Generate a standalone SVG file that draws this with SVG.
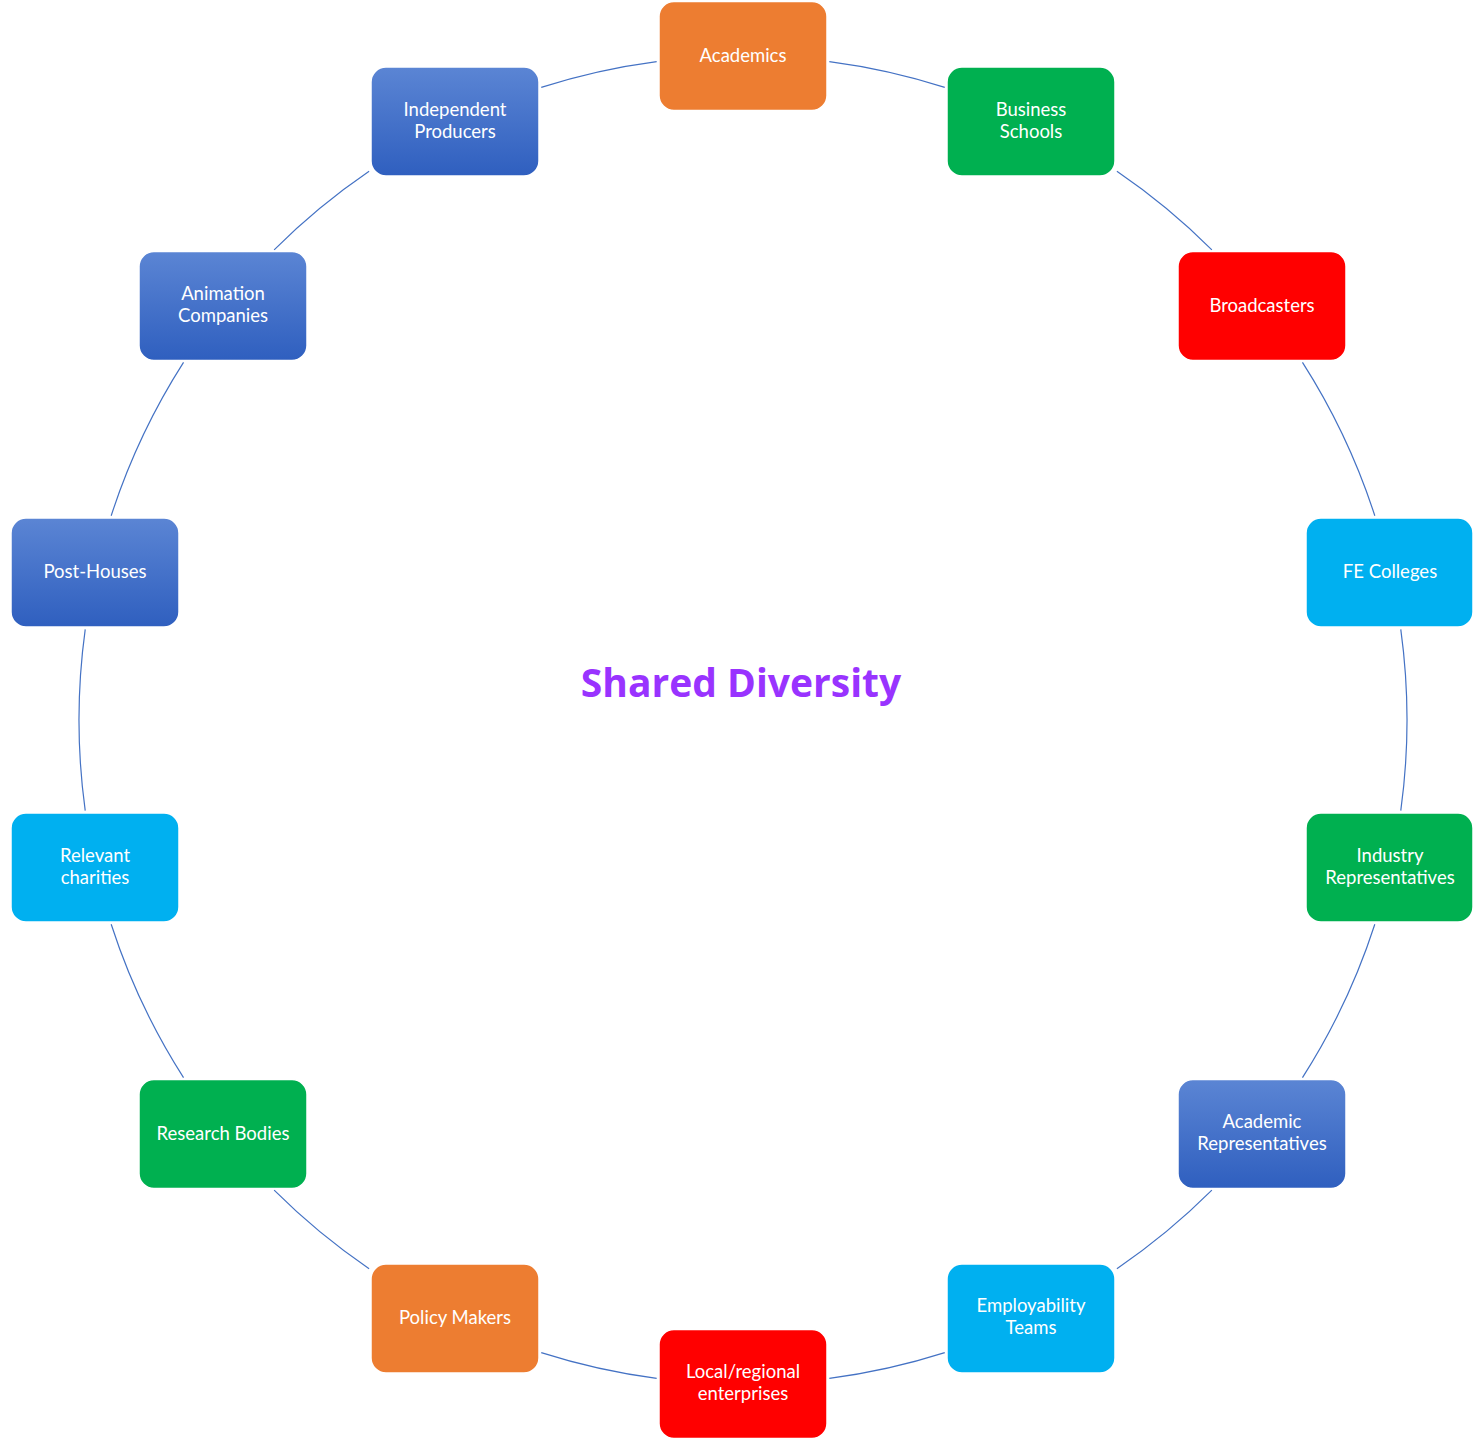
<svg xmlns="http://www.w3.org/2000/svg" width="1473" height="1440" viewBox="0 0 1473 1440">
<defs>
<linearGradient id="gb" x1="0" y1="0" x2="0" y2="1">
<stop offset="0" stop-color="#5B85D4"/>
<stop offset="1" stop-color="#2F5FBF"/>
</linearGradient>
<style>
.n rect{stroke:#ffffff;stroke-width:1.5}
.o rect{fill:#ED7D31}
.g rect{fill:#00B050}
.r rect{fill:#FF0000}
.c rect{fill:#00B0F0}
.b rect{fill:url(#gb)}
.n text{font-family:Lato,"Open Sans",sans-serif;font-size:18.5px;fill:#ffffff;text-anchor:middle}
#edges path{fill:none;stroke:#4472C4;stroke-width:1.2}
.title{font-family:"Open Sans","Liberation Sans",sans-serif;font-size:39px;font-weight:bold;fill:#9933FF;text-anchor:middle}
</style>
</defs>
<rect width="1473" height="1440" fill="#ffffff"/>
<g id="edges">
<path d="M829.33 61.64 A664 664 0 0 1 944.76 87.39"/>
<path d="M1116.90 171.27 A664 664 0 0 1 1211.86 249.83"/>
<path d="M1302.47 362.38 A664 664 0 0 1 1374.82 515.78"/>
<path d="M1400.78 629.31 A664 664 0 0 1 1400.78 810.69"/>
<path d="M1374.82 924.22 A664 664 0 0 1 1302.47 1077.62"/>
<path d="M1211.86 1190.17 A664 664 0 0 1 1116.90 1268.73"/>
<path d="M944.76 1352.61 A664 664 0 0 1 829.33 1378.36"/>
<path d="M656.67 1378.36 A664 664 0 0 1 541.24 1352.61"/>
<path d="M369.10 1268.73 A664 664 0 0 1 274.14 1190.17"/>
<path d="M183.53 1077.62 A664 664 0 0 1 111.18 924.22"/>
<path d="M85.22 810.69 A664 664 0 0 1 85.22 629.31"/>
<path d="M111.18 515.78 A664 664 0 0 1 183.53 362.38"/>
<path d="M274.14 249.83 A664 664 0 0 1 369.10 171.27"/>
<path d="M541.24 87.39 A664 664 0 0 1 656.67 61.64"/>
</g>
<text class="title" x="741" y="697">Shared Diversity</text>
<g id="academics" class="n o"><rect x="659" y="1.5" width="168" height="109" rx="15"/><text x="743" y="62">Academics</text></g>
<g id="business-schools" class="n g"><rect x="947" y="67" width="168" height="109" rx="15"/><text x="1031" y="116">Business</text><text x="1031" y="138">Schools</text></g>
<g id="broadcasters" class="n r"><rect x="1178" y="251.5" width="168" height="109" rx="15"/><text x="1262" y="312">Broadcasters</text></g>
<g id="fe-colleges" class="n c"><rect x="1306" y="518" width="167" height="109" rx="15"/><text x="1390" y="578">FE Colleges</text></g>
<g id="industry-representatives" class="n g"><rect x="1306" y="813" width="167" height="109" rx="15"/><text x="1390" y="862">Industry</text><text x="1390" y="884">Representatives</text></g>
<g id="academic-representatives" class="n b"><rect x="1178" y="1079.5" width="168" height="109" rx="15"/><text x="1262" y="1128">Academic</text><text x="1262" y="1150">Representatives</text></g>
<g id="employability-teams" class="n c"><rect x="947" y="1264" width="168" height="109" rx="15"/><text x="1031" y="1312">Employability</text><text x="1031" y="1334">Teams</text></g>
<g id="local-regional-enterprises" class="n r"><rect x="659" y="1329.5" width="168" height="109" rx="15"/><text x="743" y="1378">Local/regional</text><text x="743" y="1400">enterprises</text></g>
<g id="policy-makers" class="n o"><rect x="371" y="1264" width="168" height="109" rx="15"/><text x="455" y="1324">Policy Makers</text></g>
<g id="research-bodies" class="n g"><rect x="139" y="1079.5" width="168" height="109" rx="15"/><text x="223" y="1140">Research Bodies</text></g>
<g id="relevant-charities" class="n c"><rect x="11" y="813" width="168" height="109" rx="15"/><text x="95" y="862">Relevant</text><text x="95" y="884">charities</text></g>
<g id="post-houses" class="n b"><rect x="11" y="518" width="168" height="109" rx="15"/><text x="95" y="578">Post-Houses</text></g>
<g id="animation-companies" class="n b"><rect x="139" y="251.5" width="168" height="109" rx="15"/><text x="223" y="300">Animation</text><text x="223" y="322">Companies</text></g>
<g id="independent-producers" class="n b"><rect x="371" y="67" width="168" height="109" rx="15"/><text x="455" y="116">Independent</text><text x="455" y="138">Producers</text></g>
</svg>
